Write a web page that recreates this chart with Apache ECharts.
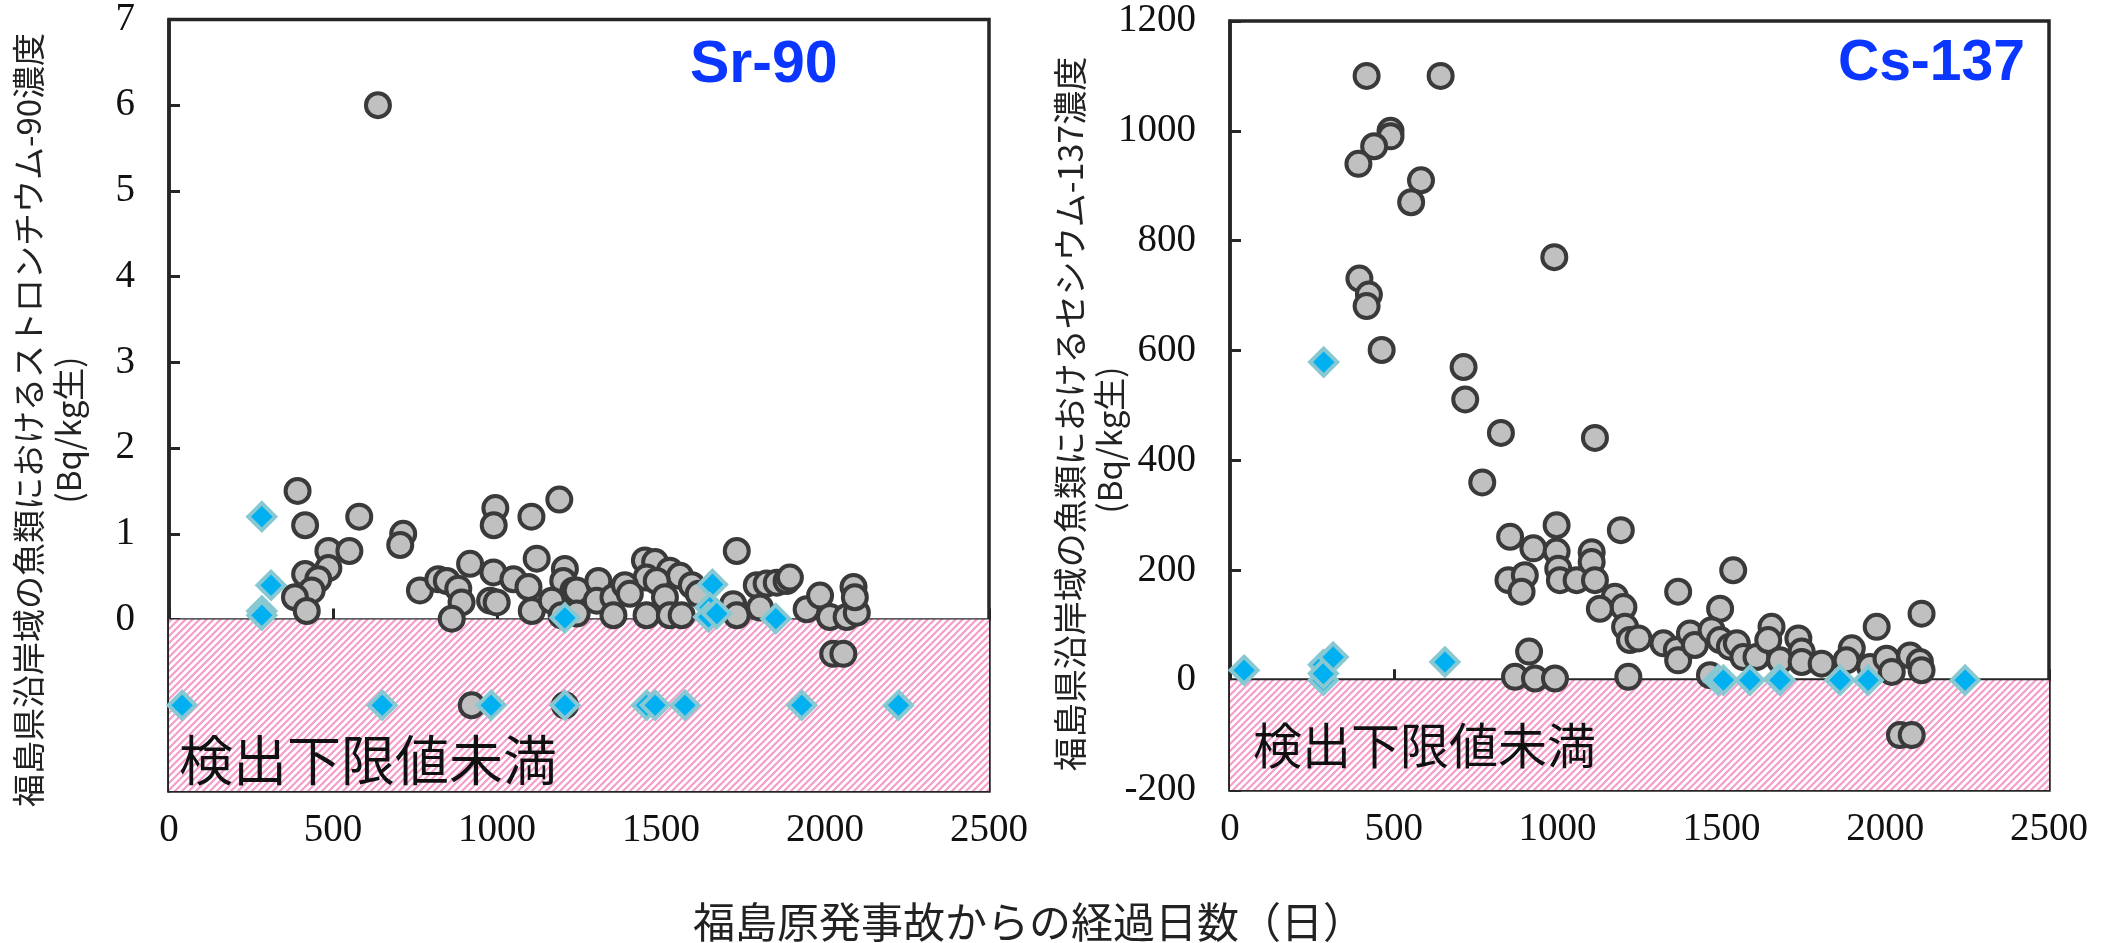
<!DOCTYPE html>
<html>
<head>
<meta charset="utf-8">
<script src="https://cdn.jsdelivr.net/npm/echarts@6/dist/echarts.min.js"></script>
<style>
  body { margin: 0; background: #fff; }
  #chart { width: 2109px; height: 943px; }
</style>
</head>
<body>
<div id="chart"></div>
<script>
// Sr-90 (Bq/kg生) vs days since accident; below detection limit plotted at -1
const srCircles = [
  [392, 1.5], [415, 1.1], [580, 1.2], [714, 1.0], [705, 0.87], [995, 1.3], [990, 1.1],
  [1105, 1.2], [1190, 1.4], [486, 0.8], [550, 0.8], [486, 0.6], [415, 0.53], [455, 0.47],
  [435, 0.34], [384, 0.26], [420, 0.1], [765, 0.34], [821, 0.47], [847, 0.45], [918, 0.65],
  [882, 0.36], [892, 0.2], [862, 0.01], [989, 0.55], [979, 0.22], [999, 0.2], [1050, 0.47],
  [1121, 0.71], [1096, 0.38], [1106, 0.1], [1207, 0.59], [1202, 0.45], [1233, 0.34],
  [1167, 0.22], [1197, 0.05], [637, 6.0],
  [1731, 0.8], [1451, 0.69], [1482, 0.67], [1527, 0.57], [1558, 0.51], [1594, 0.4],
  [1456, 0.49], [1487, 0.45], [1512, 0.26], [1243, 0.34], [1243, 0.07], [1309, 0.45],
  [1304, 0.22], [1355, 0.26], [1355, 0.05], [1390, 0.4], [1405, 0.3], [1456, 0.05],
  [1527, 0.05], [1563, 0.05], [1615, 0.3], [1720, 0.18], [1731, 0.05], [1792, 0.4],
  [1822, 0.42], [1853, 0.43], [1883, 0.45], [1893, 0.49], [1802, 0.14], [1944, 0.12],
  [1985, 0.28], [2015, 0.03], [2066, 0.03], [2097, 0.08], [2087, 0.38], [2091, 0.26],
  [2025, -0.4], [2056, -0.4],
  [923, -1], [1207, -1]
];
const srDiamonds = [
  [283, 1.2], [311, 0.4], [283, 0.1], [283, 0.05], [1207, 0.02], [1657, 0.41], [1649, 0.14],
  [1645, 0.03], [1670, 0.07], [1850, 0.01],
  [40, -1], [650, -1], [982, -1], [1207, -1], [1456, -1], [1482, -1], [1573, -1],
  [1929, -1], [2224, -1]
];

// Cs-137 (Bq/kg生); below detection limit plotted at 0
const csCircles = [
  [417, 1100], [643, 1100], [490, 1000], [490, 990], [440, 972], [392, 940], [583, 910],
  [553, 870], [990, 770], [395, 731], [424, 702], [417, 681], [463, 601], [713, 570],
  [718, 511], [827, 450], [1114, 441], [770, 360],
  [855, 261], [926, 240], [997, 282], [997, 234], [1002, 203], [1007, 182], [1058, 182],
  [1104, 233], [1104, 215], [1114, 182], [1193, 273], [850, 182], [900, 191], [890, 161],
  [1175, 152], [1201, 133], [1129, 130], [1206, 97], [1221, 73], [1247, 76], [913, 52],
  [870, 6], [931, 3], [992, 3], [1216, 6],
  [1536, 200], [1368, 161], [1496, 130], [1323, 67], [1364, 55], [1368, 36], [1404, 85],
  [1419, 64], [1470, 91], [1496, 73], [1526, 61], [1547, 67], [1465, 9], [1567, 42],
  [1607, 42], [1653, 97], [1643, 73], [1679, 36], [1735, 76], [1745, 52], [1745, 33],
  [1806, 30], [1898, 58], [1882, 36], [1954, 24], [1974, 97], [2004, 39], [2020, 15],
  [2076, 45], [2106, 33], [2111, 18], [2111, 121], [2045, -100], [2081, -100]
];
const csDiamonds = [
  [43, 18], [285, 28], [285, 0], [285, 12], [315, 42], [656, 33], [286, 579],
  [1490, 0], [1506, 0], [1587, 0], [1675, 2], [1679, 0], [1862, 0], [1948, 0], [2244, 0]
];

const srTicks = [0, 1, 2, 3, 4, 5, 6, 7];

// pink hatch pattern for the "below detection limit" band
const hatch = document.createElement('canvas');
hatch.width = 7;
hatch.height = 7;
const hc = hatch.getContext('2d');
hc.fillStyle = '#ffffff';
hc.fillRect(0, 0, 7, 7);
hc.strokeStyle = '#f59dcb';
hc.lineWidth = 2.2;
hc.beginPath();
hc.moveTo(-1, 8); hc.lineTo(8, -1);
hc.moveTo(-4.5, 4.5); hc.lineTo(4.5, -4.5);
hc.moveTo(2.5, 11.5); hc.lineTo(11.5, 2.5);
hc.stroke();

const axisColor = '#262626';
const tickFont = {
  fontFamily: '"Liberation Serif", "DejaVu Serif", serif',
  fontSize: 39, color: '#111',
  formatter: v => String(v)
};

function xAxis(grid) {
  return {
    type: 'value', gridIndex: grid, min: 0, max: 2500, interval: 500,
    axisLine: { lineStyle: { color: axisColor, width: 3.5 } },
    axisTick: { inside: true, length: 11, lineStyle: { color: axisColor, width: 3 } },
    axisLabel: Object.assign({ margin: 20 }, tickFont),
    splitLine: { show: false }
  };
}

const circleStyle = { color: '#c0c0c0', borderColor: '#3a3a3a', borderWidth: 4, opacity: 1 };
const diamondStyle = { color: '#00b0f0', borderColor: '#88c8d2', borderWidth: 4, opacity: 1 };

function band(ymin) {
  return {
    silent: true,
    itemStyle: { color: { image: hatch, repeat: 'repeat' } },
    data: [[{ yAxis: ymin }, { yAxis: 0 }]]
  };
}

const chart = echarts.init(document.getElementById('chart'));
const option = {
  backgroundColor: '#fff',
  animation: false,
  grid: [
    { left: 169, top: 18, width: 820, height: 773, show: true, borderColor: axisColor, borderWidth: 3.5 },
    { left: 1230, top: 21, width: 819, height: 769, show: true, borderColor: axisColor, borderWidth: 3.5 }
  ],
  xAxis: [xAxis(0), xAxis(1)],
  yAxis: [
    {
      type: 'value', gridIndex: 0, min: -2, max: 7, interval: 1,
      axisLine: { lineStyle: { color: axisColor, width: 3.5 } },
      axisTick: { inside: true, length: 11, customValues: srTicks, lineStyle: { color: axisColor, width: 3 } },
      axisLabel: Object.assign({ margin: 34, customValues: srTicks }, tickFont),
      splitLine: { show: false }
    },
    {
      type: 'value', gridIndex: 1, min: -200, max: 1200, interval: 200,
      axisLine: { lineStyle: { color: axisColor, width: 3.5 } },
      axisTick: { inside: true, length: 11, lineStyle: { color: axisColor, width: 3 } },
      axisLabel: Object.assign({ margin: 34 }, tickFont),
      splitLine: { show: false }
    }
  ],
  series: [
    {
      type: 'scatter', xAxisIndex: 0, yAxisIndex: 0, data: srCircles,
      symbol: 'circle', symbolSize: 24, itemStyle: circleStyle, markArea: band(-2)
    },
    {
      type: 'scatter', xAxisIndex: 0, yAxisIndex: 0, data: srDiamonds,
      symbol: 'diamond', symbolSize: 27, itemStyle: diamondStyle
    },
    {
      type: 'scatter', xAxisIndex: 1, yAxisIndex: 1, data: csCircles,
      symbol: 'circle', symbolSize: 24, itemStyle: circleStyle, markArea: band(-200)
    },
    {
      type: 'scatter', xAxisIndex: 1, yAxisIndex: 1, data: csDiamonds,
      symbol: 'diamond', symbolSize: 27, itemStyle: diamondStyle
    }
  ],
  graphic: [
    { type: 'text', left: 690, top: 36, z: 10,
      style: { text: 'Sr-90', fill: '#0a36ff', font: 'bold 59px "Liberation Sans"' } },
    { type: 'text', left: 1838, top: 36, z: 10,
      style: { text: 'Cs-137', fill: '#0a36ff', font: 'bold 57px "Liberation Sans"' } },
    { type: 'text', x: 179, y: 760, z: 10,
      style: { text: '検出下限値未満', fill: '#111', font: '54px "Noto Sans CJK JP"', verticalAlign: 'middle' } },
    { type: 'text', x: 1253, y: 745, z: 10,
      style: { text: '検出下限値未満', fill: '#111', font: '49px "Noto Sans CJK JP"', verticalAlign: 'middle' } },
    { type: 'text', x: 28, y: 420, rotation: Math.PI / 2, z: 10,
      style: { text: '福島県沿岸域の魚類におけるストロンチウム-90濃度', fill: '#222',
        font: '33px "Noto Sans CJK JP"', align: 'center', verticalAlign: 'middle' } },
    { type: 'text', x: 68, y: 430, rotation: Math.PI / 2, z: 10,
      style: { text: '(Bq/kg生)', fill: '#222',
        font: '33px "Noto Sans CJK JP"', align: 'center', verticalAlign: 'middle' } },
    { type: 'text', x: 1070, y: 414, rotation: Math.PI / 2, z: 10,
      style: { text: '福島県沿岸域の魚類におけるセシウム-137濃度', fill: '#222',
        font: '34px "Noto Sans CJK JP"', align: 'center', verticalAlign: 'middle' } },
    { type: 'text', x: 1109, y: 440, rotation: Math.PI / 2, z: 10,
      style: { text: '(Bq/kg生)', fill: '#222',
        font: '33px "Noto Sans CJK JP"', align: 'center', verticalAlign: 'middle' } },
    { type: 'text', x: 1029, y: 922, z: 10,
      style: { text: '福島原発事故からの経過日数（日）', fill: '#222',
        font: '42px "Noto Sans CJK JP"', align: 'center', verticalAlign: 'middle' } }
  ]
};
chart.setOption(option);
</script>
</body>
</html>
